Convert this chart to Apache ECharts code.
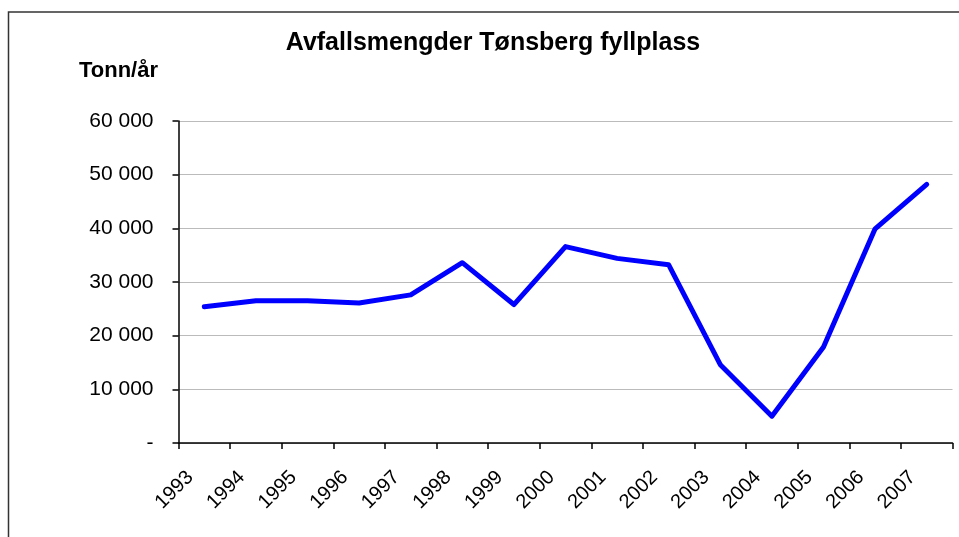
<!DOCTYPE html>
<html>
<head>
<meta charset="utf-8">
<script src="https://cdn.jsdelivr.net/npm/echarts@6/dist/echarts.min.js"></script>
<style>
html,body{margin:0;padding:0;background:#fff;}
#chart{width:959px;height:537px;}
</style>
</head>
<body>
<div id="chart"></div>
<script>
const titleText = 'Avfallsmengder Tønsberg fyllplass';
const yAxisTitle = 'Tonn/år';
const years = ['1993','1994','1995','1996','1997','1998','1999','2000','2001','2002','2003','2004','2005','2006','2007'];
const tonnes = [25400, 26500, 26500, 26100, 27600, 33600, 25800, 36600, 34400, 33200, 14600, 5000, 17900, 39900, 48200];
const yMin = 0, yMax = 60000, yStep = 10000;

function fmt(v){
  if (v === 0) return '-';
  return String(v).replace(/\B(?=(\d{3})+(?!\d))/g, ' ');
}

const chart = echarts.init(document.getElementById('chart'));
chart.setOption({
  animation: false,
  backgroundColor: '#fff',
  title: [{
    text: titleText,
    left: 493, textAlign: 'center', top: 31, padding: 0,
    textStyle: {fontFamily: 'Liberation Sans, Arial', fontWeight: 'bold', fontSize: 25, color: '#000'}
  },{
    text: yAxisTitle,
    left: 79, top: 60, padding: 0,
    textStyle: {fontFamily: 'Liberation Sans, Arial', fontWeight: 'bold', fontSize: 22, color: '#000'}
  }],
  graphic: [{
    type: 'rect', silent: true,
    shape: {x: 8.5, y: 12, width: 1000, height: 600},
    style: {fill: 'none', stroke: '#333', lineWidth: 1.5}
  }],
  grid: {left: 178.5, right: 6.5, top: 121, bottom: 94},
  xAxis: {
    type: 'category', data: years, boundaryGap: true,
    axisLine: {lineStyle: {color: '#000', width: 1.5}},
    axisTick: {show: true, length: 6, lineStyle: {color: '#000', width: 1.5}},
    axisLabel: {rotate: 45, margin: 17, padding: [0, 20, 0, 0], interval: 0, color: '#000', fontSize: 20, fontFamily: 'Liberation Sans, Arial'},
    splitLine: {show: false}
  },
  yAxis: {
    type: 'value', min: yMin, max: yMax, interval: yStep,
    axisLine: {show: true, lineStyle: {color: '#000', width: 1.5}},
    axisTick: {show: true, length: 6, lineStyle: {color: '#000', width: 1.5}},
    axisLabel: {formatter: fmt, margin: 25, color: '#000', fontSize: 21, fontFamily: 'Liberation Sans, Arial'},
    splitLine: {show: true, lineStyle: {color: '#bbb', width: 1.2}}
  },
  series: [{
    type: 'line', data: tonnes, symbol: 'none',
    lineStyle: {color: '#0000ff', width: 5, cap: 'round', join: 'round'}
  }]
});
</script>
</body>
</html>
